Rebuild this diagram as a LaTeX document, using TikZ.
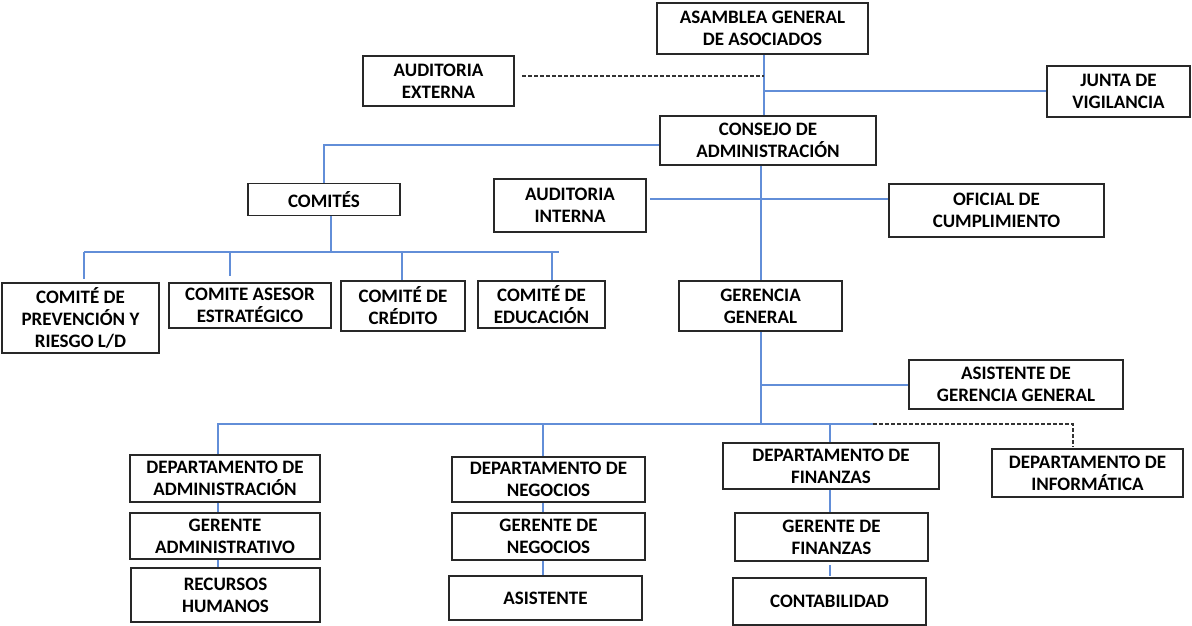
\documentclass[tikz,border=0pt]{standalone}
\usepackage{fontspec}
\setmainfont{Carlito}
\definecolor{linkblue}{RGB}{98,142,216}
\definecolor{boxline}{RGB}{40,40,40}
\tikzset{
  box/.style={draw=boxline, line width=1.8pt, fill=white, inner sep=0pt, align=center,
    font=\fontsize{19}{22}\selectfont\bfseries},
  link/.style={draw=linkblue, line width=2pt},
  dotlink/.style={draw=black!80, line width=2pt, dash pattern=on 3.5pt off 2.5pt}
}
\newcommand\bx[6]{\node[box, minimum width=#4pt, minimum height=#5pt] (#1) at (#2,#3) {#6};}
\begin{document}
\begin{tikzpicture}[x=1pt,y=-1pt]
\useasboundingbox (0,0) rectangle (1192,626);
% boxes
\bx{asam}{762.5}{28.5}{211}{51}{ASAMBLEA GENERAL\\DE ASOCIADOS}
\bx{audext}{438.5}{81}{151}{50}{AUDITORIA\\EXTERNA}
\bx{junta}{1118.5}{91.5}{143}{51}{JUNTA DE\\VIGILANCIA}
\bx{consejo}{768}{140.5}{216}{49}{CONSEJO DE\\ADMINISTRACIÓN}
\bx{comites}{324}{199.5}{152}{32}{COMITÉS}
\bx{audint}{570}{205.5}{152}{53}{AUDITORIA\\INTERNA}
\bx{oficial}{996.5}{210.5}{215}{53}{OFICIAL DE\\CUMPLIMIENTO}
\bx{prev}{80.5}{318}{157}{70}{COMITÉ DE\\PREVENCIÓN Y\\RIESGO L/D}
\bx{asesor}{250}{305.5}{162}{45}{COMITE ASESOR\\ESTRATÉGICO}
\bx{credito}{403}{306}{124}{50}{COMITÉ DE\\CRÉDITO}
\bx{educ}{541.5}{304.5}{127}{47}{COMITÉ DE\\EDUCACIÓN}
\bx{gerencia}{760.5}{306}{163}{50}{GERENCIA\\GENERAL}
\bx{asist}{1016}{384.5}{214}{49}{ASISTENTE DE\\GERENCIA GENERAL}
\bx{dadm}{225}{478.5}{190}{47}{DEPARTAMENTO DE\\ADMINISTRACIÓN}
\bx{gadm}{225}{536}{190}{46}{GERENTE\\ADMINISTRATIVO}
\bx{rrhh}{225.5}{595}{189}{54}{RECURSOS\\HUMANOS}
\bx{dneg}{548.5}{479.5}{193}{45}{DEPARTAMENTO DE\\NEGOCIOS}
\bx{gneg}{548.5}{536.5}{193}{47}{GERENTE DE\\NEGOCIOS}
\bx{asis2}{545.5}{598}{193}{44}{ASISTENTE}
\bx{dfin}{831}{466}{216}{46}{DEPARTAMENTO DE\\FINANZAS}
\bx{gfin}{831.5}{537}{193}{48}{GERENTE DE\\FINANZAS}
\bx{conta}{829.5}{601.5}{193}{47}{CONTABILIDAD}
\bx{dinf}{1087.5}{473}{191}{48}{DEPARTAMENTO DE\\INFORMÁTICA}
% guide coordinates
\coordinate (xS) at (764,0);
\coordinate (dotL) at (522,76);
\coordinate (bar) at (331,252);
\coordinate (barL) at (84,252);
\coordinate (barR) at (559,252);
\coordinate (xAs) at (230,0);
\coordinate (xCr) at (402,0);
\coordinate (xEd) at (552,0);
\coordinate (yAI) at (0,199);
\coordinate (yD) at (0,424);
\coordinate (xA) at (218,0);
\coordinate (xN) at (543,0);
\coordinate (xF) at (830,0);
\coordinate (xE) at (873,0);
\coordinate (xI) at (1073,0);
% connectors
\draw[link] (asam.south -| xS) -- (consejo.north -| xS);
\draw[dotlink] (dotL) -- (dotL -| xS);
\draw[link] (junta.west) -- (junta.west -| xS);
\draw[link] ([yshift=-4.5pt]consejo.west) -| (comites.north);
\draw[link] (comites.south -| bar) -- (bar);
\draw[link] (barL) -- (barR);
\draw[link] (barL) -- ([yshift=3pt]prev.north -| barL);
\draw[link] (xAs |- bar) -- ([yshift=6pt]asesor.north -| xAs);
\draw[link] (xCr |- bar) -- (credito.north -| xCr);
\draw[link] (xEd |- bar) -- (educ.north -| xEd);
\draw[link, shorten <=3pt] (audint.east |- yAI) -- (oficial.west |- yAI);
\draw[link] (consejo.south -| gerencia.north) -- (gerencia.north);
\draw[link] (gerencia.south) -- (gerencia.south |- yD);
\draw[link] (asist.west) -- (asist.west -| gerencia.south);
\draw[link] (dadm.north -| xA) -- (xA |- yD) -- (xE |- yD);
\draw[link] (xN |- yD) -- (dneg.north -| xN);
\draw[link] (xF |- yD) -- (dfin.north -| xF);
\draw[dotlink] (xE |- yD) -- (xI |- yD) -- ([yshift=2pt]dinf.north -| xI);
\draw[link] (dadm.south -| xA) -- (gadm.north -| xA);
\draw[link] (gadm.south -| xA) -- (rrhh.north -| xA);
\draw[link] (dneg.south -| xN) -- (gneg.north -| xN);
\draw[link] (gneg.south -| xN) -- (asis2.north -| xN);
\draw[link] (dfin.south -| xF) -- (gfin.north -| xF);
\draw[link, shorten <=3pt, shorten >=1pt] (gfin.south -| xF) -- (conta.north -| xF);
\end{tikzpicture}
\end{document}
